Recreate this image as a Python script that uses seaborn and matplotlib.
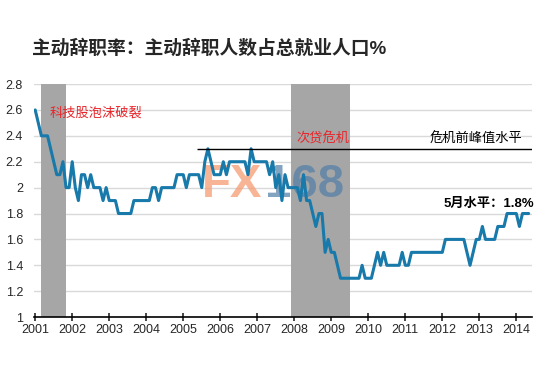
import numpy as np
import pandas as pd
import seaborn as sns
import matplotlib.pyplot as plt

# monthly quits rate, Jan 2001 - May 2014
y2001 = [2.6, 2.5, 2.4, 2.4, 2.4, 2.3, 2.2, 2.1, 2.1, 2.2, 2.0, 2.0]
y2002 = [2.2, 2.0, 1.9, 2.1, 2.1, 2.0, 2.1, 2.0, 2.0, 2.0, 1.9, 2.0]
y2003 = [1.9, 1.9, 1.9, 1.8, 1.8, 1.8, 1.8, 1.8, 1.9, 1.9, 1.9, 1.9]
y2004 = [1.9, 1.9, 2.0, 2.0, 1.9, 2.0, 2.0, 2.0, 2.0, 2.0, 2.1, 2.1]
y2005 = [2.1, 2.0, 2.1, 2.1, 2.1, 2.1, 2.0, 2.2, 2.3, 2.2, 2.1, 2.1]
y2006 = [2.1, 2.2, 2.1, 2.2, 2.2, 2.2, 2.2, 2.2, 2.2, 2.1, 2.3, 2.2]
y2007 = [2.2, 2.2, 2.2, 2.2, 2.1, 2.2, 2.0, 2.1, 1.9, 2.1, 2.0, 2.0]
y2008 = [2.0, 2.0, 1.9, 2.1, 1.9, 1.9, 1.8, 1.7, 1.8, 1.8, 1.5, 1.6]
y2009 = [1.5, 1.5, 1.4, 1.3, 1.3, 1.3, 1.3, 1.3, 1.3, 1.3, 1.4, 1.3]
y2010 = [1.3, 1.3, 1.4, 1.5, 1.4, 1.5, 1.4, 1.4, 1.4, 1.4, 1.4, 1.5]
y2011 = [1.4, 1.4, 1.5, 1.5, 1.5, 1.5, 1.5, 1.5, 1.5, 1.5, 1.5, 1.5]
y2012 = [1.5, 1.6, 1.6, 1.6, 1.6, 1.6, 1.6, 1.6, 1.5, 1.4, 1.5, 1.6]
y2013 = [1.6, 1.7, 1.6, 1.6, 1.6, 1.6, 1.7, 1.7, 1.7, 1.8, 1.8, 1.8]
y2014 = [1.8, 1.7, 1.8, 1.8, 1.8]

years = list(range(2001, 2015))
recessions = [(2001 + 2 / 12, 2001 + 10 / 12), (2007 + 11 / 12, 2009 + 6 / 12)]
peak_level = 2.3

rate = (y2001 + y2002 + y2003 + y2004 + y2005 + y2006 + y2007 + y2008
        + y2009 + y2010 + y2011 + y2012 + y2013 + y2014)
df = pd.DataFrame({'t': 2001 + np.arange(len(rate)) / 12, 'rate': rate})

sns.set_style('white')
plt.rcParams['font.family'] = ['Liberation Sans', 'Noto Sans CJK SC']

fig = plt.figure(figsize=(5.5, 3.67), dpi=100)
ax = fig.add_axes([0.062, 0.136, 0.905, 0.635])

# grid lines
for v in np.arange(1.2, 2.81, 0.2):
    ax.axhline(v, color='#d9d9d9', lw=1, zorder=0)

# recession shading
for a, b in recessions:
    ax.axvspan(a, b, color='#a6a6a6', lw=0, zorder=1)

# watermark
ax.text(2005.5, 2.02, 'FX', fontsize=34, fontweight='bold', color='#f59c72',
        alpha=0.75, va='center', ha='left', zorder=2)
ax.text(2007.2, 2.02, '168', fontsize=34, fontweight='bold', color='#4f7ea6',
        alpha=0.7, va='center', ha='left', zorder=2)

sns.lineplot(data=df, x='t', y='rate', color='#1879ab', lw=2.2, ax=ax, zorder=3)

ax.hlines(peak_level, 2005.37, 2014.42, color='black', lw=1, zorder=4)

ax.set_xlim(2000.97, 2014.42)
ax.set_ylim(1, 2.8)
ax.set_xticks(years)
ax.set_xticklabels([str(y) for y in years])
ax.set_yticks(np.round(np.arange(1, 2.81, 0.2), 1))
ax.set_yticklabels(['%g' % v for v in np.round(np.arange(1, 2.81, 0.2), 1)])
ax.set_xlabel('')
ax.set_ylabel('')
ax.tick_params(axis='x', direction='inout', length=6, width=1.2, labelsize=9,
               bottom=True, pad=2)
ax.tick_params(axis='y', length=0, labelsize=9, pad=8)
for s in ['top', 'right', 'left']:
    ax.spines[s].set_visible(False)
ax.spines['bottom'].set_color('black')
ax.spines['bottom'].set_linewidth(1.2)

ax.text(2001.4, 2.576, '科技股泡沫破裂', color='#e8262b', fontsize=9.5,
        va='center', ha='left', zorder=5)
ax.text(2008.06, 2.375, '次贷危机', color='#e8262b', fontsize=9.5,
        va='center', ha='left', zorder=5)
ax.text(2011.65, 2.375, '危机前峰值水平', color='black', fontsize=9.5,
        va='center', ha='left', zorder=5)
ax.text(2014.48, 1.873, '5月水平：1.8%', color='black', fontsize=9.5,
        fontweight='bold', va='center', ha='right', zorder=5)

fig.text(0.058, 0.868, '主动辞职率：主动辞职人数占总就业人口%', fontsize=13.5,
         fontweight='bold', va='center', ha='left')

fig.savefig('out.png', dpi=100)
